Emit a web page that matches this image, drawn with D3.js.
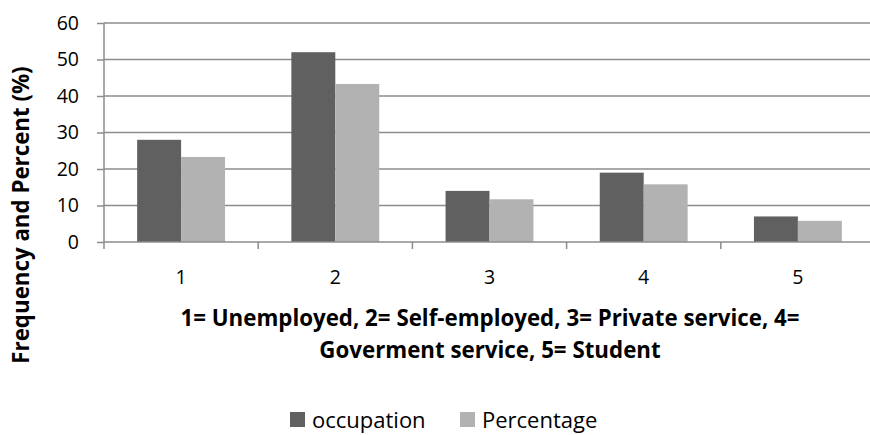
<!DOCTYPE html>
<html><head><meta charset="utf-8">
<script src="https://cdn.jsdelivr.net/npm/d3@7"></script>
<style>body{margin:0;background:#fff;} svg{display:block;font-family:"Open Sans",sans-serif;}</style>
</head><body>
<svg id="c" width="870" height="435"></svg>
<script>
const categories = ["1","2","3","4","5"];
const seriesNames = ["occupation","Percentage"];
const occupation = [28,52,14,19,7];
const percentage = [23.3,43.3,11.7,15.8,5.8];
const yTicks = [0,10,20,30,40,50,60];
const colors = ["#606060","#b2b2b2"];

const svg = d3.select("#c");
const L=104, T=23, W=771, H=219;
const x = d3.scaleBand().domain(categories).range([L,L+W]).paddingInner(0.43).paddingOuter(0.215);
const xs = d3.scaleBand().domain(seriesNames).range([0,x.bandwidth()]);
const y = d3.scaleLinear().domain([0,60]).range([T+H,T]);

// gridlines
svg.append("g").selectAll("line").data(yTicks.filter(d=>d>0)).join("line")
  .attr("x1",L).attr("x2",L+W).attr("y1",d=>y(d)).attr("y2",d=>y(d))
  .attr("stroke","#8c8c8c").attr("stroke-width",1.5);

const data = categories.map((c,i)=>({c, vals:[occupation[i],percentage[i]]}));
svg.append("g").selectAll("g").data(data).join("g")
  .attr("transform",d=>`translate(${x(d.c)},0)`)
  .selectAll("rect").data(d=>d.vals.map((v,j)=>({v,s:seriesNames[j],j}))).join("rect")
  .attr("x",d=>xs(d.s)).attr("width",xs.bandwidth())
  .attr("y",d=>y(d.v)).attr("height",d=>y(0)-y(d.v))
  .attr("fill",d=>colors[d.j]);

// y axis
const ya = svg.append("g").attr("transform",`translate(${L},0)`)
  .call(d3.axisLeft(y).tickValues(yTicks).tickSize(7).tickPadding(18));
ya.select(".domain").attr("stroke","#8c8c8c").attr("stroke-width",1.5).attr("d",`M0,${T+H}V${T}`);
ya.selectAll(".tick line").attr("stroke","#8c8c8c").attr("stroke-width",1.5);
ya.selectAll("text").attr("font-size",19.5).attr("fill","#000").attr("font-family","Open Sans");

// x axis
const xa = svg.append("g").attr("transform",`translate(0,${T+H})`);
xa.append("line").attr("x1",L).attr("x2",L+W).attr("stroke","#8c8c8c").attr("stroke-width",1.5);
const step = x.step();
xa.selectAll("line.t").data(d3.range(categories.length+1)).join("line").attr("class","t")
  .attr("x1",i=>L+i*step).attr("x2",i=>L+i*step).attr("y1",0).attr("y2",7)
  .attr("stroke","#8c8c8c").attr("stroke-width",1.5);
xa.selectAll("text").data(categories).join("text")
  .attr("x",d=>x(d)+x.bandwidth()/2).attr("y",42).attr("text-anchor","middle")
  .attr("font-size",19.5).text(d=>d);

// x title
const xt = svg.append("text").attr("text-anchor","middle").attr("font-weight","bold").attr("font-size",22.3);
xt.append("tspan").attr("x",490).attr("y",326).text("1= Unemployed, 2= Self-employed, 3= Private service, 4=");
xt.append("tspan").attr("x",490).attr("y",358).text("Goverment service, 5= Student");

// y title
svg.append("text").attr("transform","translate(29,215) rotate(-90)").attr("text-anchor","middle")
  .attr("font-weight","bold").attr("font-size",22.3).text("Frequency and Percent (%)");

// legend
const lg = svg.append("g");
const lx = [290,460];
seriesNames.forEach((s,i)=>{
  lg.append("rect").attr("x",lx[i]).attr("y",412).attr("width",15).attr("height",15).attr("fill",colors[i]);
  lg.append("text").attr("x",lx[i]+22).attr("y",428).attr("font-size",22).text(s);
});
</script>
</body></html>
